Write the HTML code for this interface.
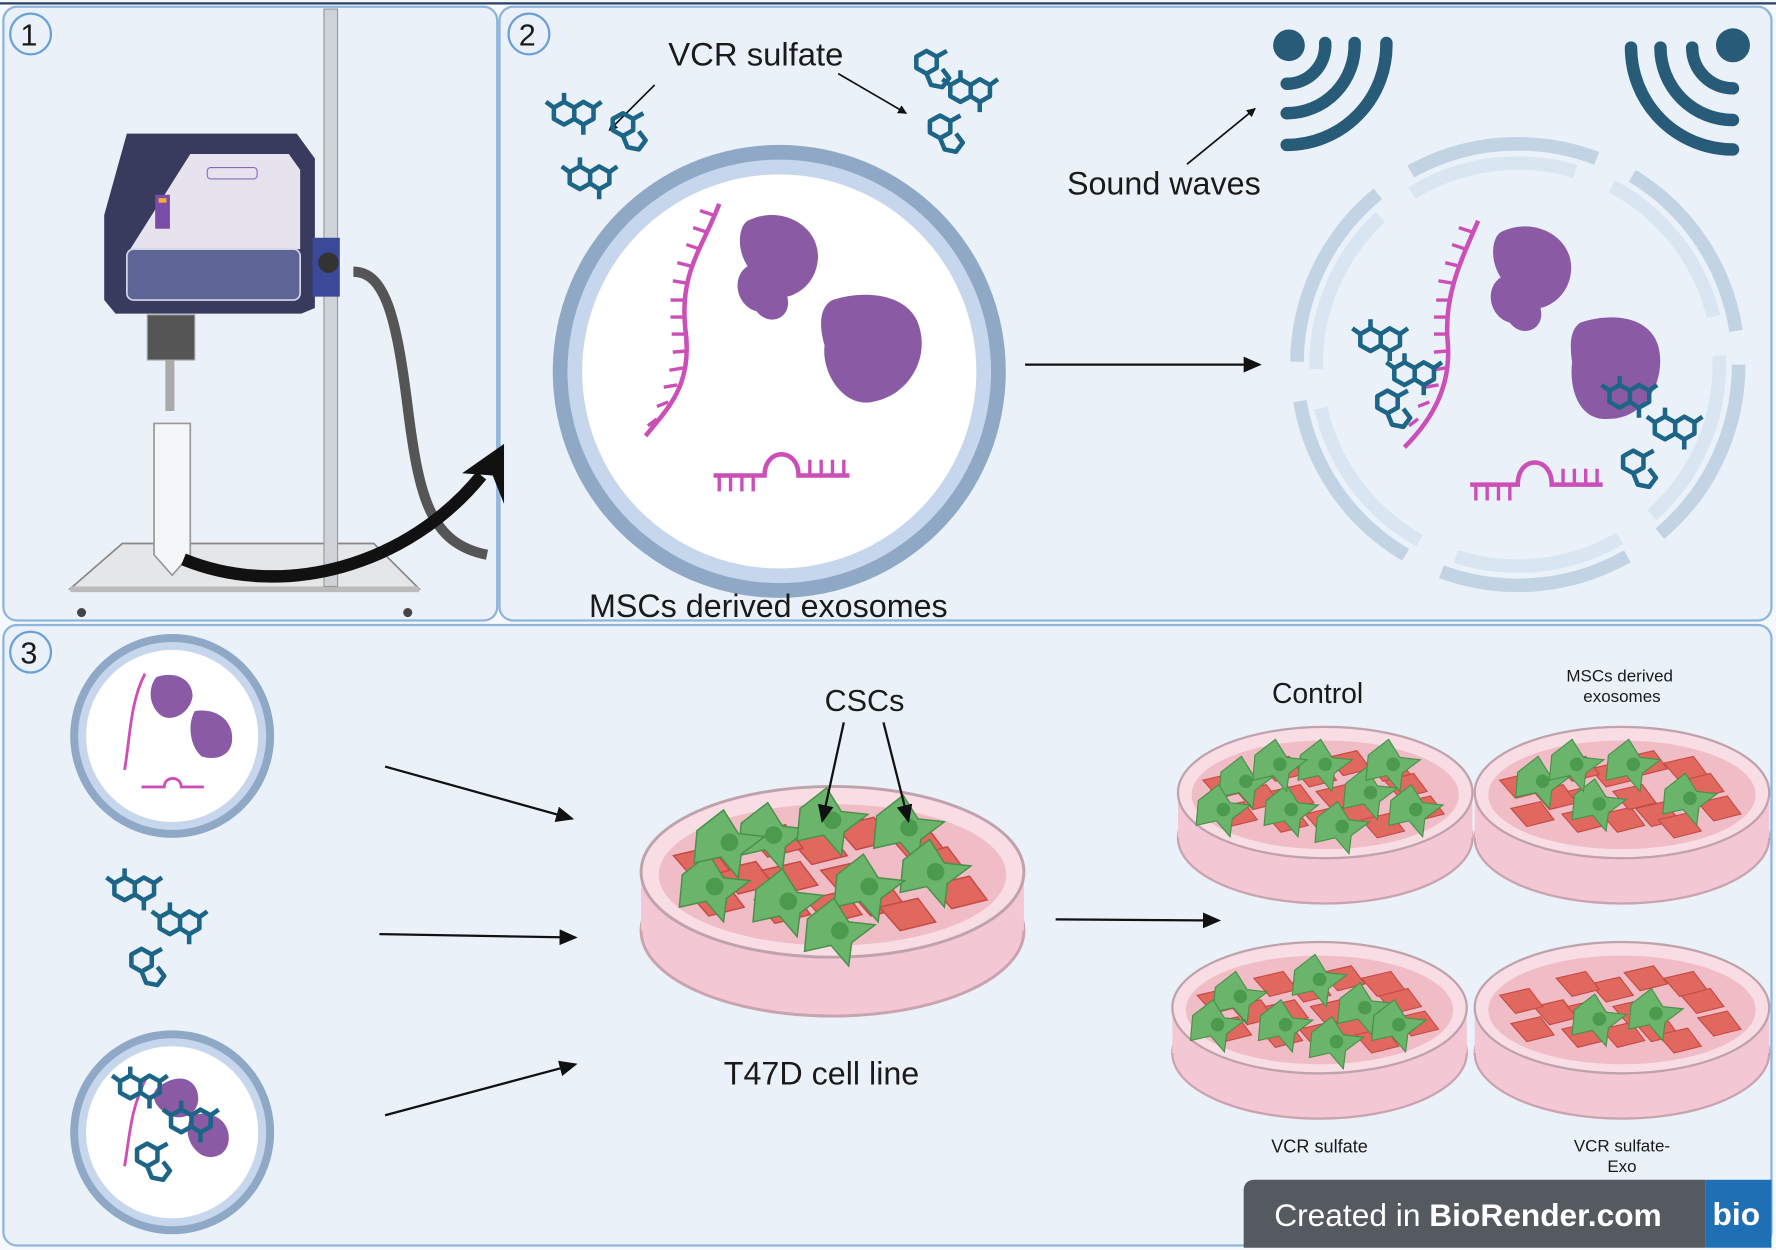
<!DOCTYPE html>
<html><head><meta charset="utf-8"><style>
html,body{margin:0;padding:0;background:#fff;}
svg{display:block;}
text{font-family:"Liberation Sans",sans-serif;fill:#1a1a1a;}
</style></head><body>
<svg width="1776" height="1250" viewBox="0 0 1568 1104" preserveAspectRatio="none" xmlns="http://www.w3.org/2000/svg">
<defs>
<g id="mol" fill="none" stroke="#1d6587" stroke-width="4" stroke-linejoin="round">
<path d="M0,-10 L9,-5 L9,5 L0,10 L-9,5 L-9,-5Z M9,-5 L18,-10 M0,10 L4,20 L14,22 L20,14 L14,6"/>
</g>
<g id="mol2" fill="none" stroke="#1d6587" stroke-width="4" stroke-linejoin="round">
<path d="M0,-10 L9,-5 L9,5 L0,10 L-9,5 L-9,-5Z M-9,-5 L-16,-10 M0,-10 L0,-18 M9,5 L17,10 L26,5 L26,-5 L17,-10 L9,-5 M26,-5 L33,-10 M17,10 L17,19"/>
</g>
<marker id="ah" markerWidth="8" markerHeight="8" refX="7" refY="4" orient="auto" markerUnits="userSpaceOnUse"><path d="M0,0 L8,4 L0,8Z" fill="#111"/></marker>
<marker id="ah2" markerWidth="16" markerHeight="14" refX="14" refY="7" orient="auto" markerUnits="userSpaceOnUse"><path d="M0,0 L16,7 L0,14Z" fill="#111"/></marker>
<g id="dish">
<ellipse cx="0" cy="40" rx="130" ry="58" fill="#f3c7d4" stroke="#c9a3ae" stroke-width="2"/>
<rect x="-130" y="0" width="260" height="40" fill="#f3c7d4"/>
<ellipse cx="0" cy="0" rx="130" ry="58" fill="#f8dde5" stroke="#bfa2ab" stroke-width="2"/>
<ellipse cx="0" cy="2" rx="118" ry="48" fill="#f0bcc6"/>
</g>
<g id="red">
<path d="M-18,-6 L8,-12 L20,4 L-4,10Z" fill="#e0685f" stroke="#c44a44" stroke-width="1"/>
</g>
<g id="grn">
<path d="M-22,-8 L-4,-22 L6,-6 L24,-4 L8,8 L6,24 L-6,10 L-24,14Z" fill="#6ab56b" stroke="#4a8f4a" stroke-width="1"/>
<circle r="6" fill="#4c9a4d"/>
</g>
<g id="reds">
<use href="#red" x="-60" y="5"/><use href="#red" x="30" y="20"/><use href="#red" x="70" y="-5"/><use href="#red" x="-10" y="-15"/><use href="#red" x="0" y="25"/><use href="#red" x="-80" y="20"/><use href="#red" x="50" y="30"/><use href="#red" x="-40" y="-20"/><use href="#red" x="-35" y="25"/><use href="#red" x="85" y="15"/><use href="#red" x="20" y="-25"/><use href="#red" x="-90" y="-5"/><use href="#red" x="10" y="5"/><use href="#red" x="-30" y="5"/><use href="#red" x="55" y="-20"/>
</g>
</defs>
<rect width="1568" height="1104" fill="#f5f8fc"/>
<rect x="3" y="6" width="436" height="542" rx="12" fill="#eaf1f9" stroke="#8fb4de" stroke-width="2"/>
<rect x="441" y="6" width="1123" height="542" rx="12" fill="#eaf1f9" stroke="#8fb4de" stroke-width="2"/>
<rect x="3" y="552" width="1561" height="548" rx="12" fill="#eaf1f9" stroke="#8fb4de" stroke-width="2"/>
<line x1="0" y1="3" x2="1568" y2="3" stroke="#2a3f66" stroke-width="2"/>
<g fill="none" stroke="#6aa0d8" stroke-width="2">
<circle cx="27" cy="30" r="18"/><circle cx="467" cy="30" r="18"/><circle cx="27" cy="576" r="18"/></g>
<text x="18" y="40" font-size="27">1</text><text x="458" y="40" font-size="27">2</text><text x="18" y="586" font-size="27">3</text>

<polygon points="62,520 108,480 330,480 370,520" fill="#e4e6e8" stroke="#888" stroke-width="1.5"/>
<rect x="62" y="518" width="308" height="5" fill="#bbb"/>
<circle cx="72" cy="541" r="4" fill="#444"/><circle cx="360" cy="541" r="4" fill="#444"/>
<rect x="286" y="8" width="12" height="510" fill="#cfd3d8" stroke="#999"/>
<path d="M312,240 C340,240 350,280 360,360 C370,440 380,480 430,490" fill="none" stroke="#555" stroke-width="9"/>
<path d="M112,118 L262,118 L278,140 L278,272 L266,277 L102,277 L92,265 L92,190 Z" fill="#383a5e"/>
<path d="M168,136 L255,136 L265,150 L265,220 L115,220 Z" fill="#e6e2ee"/>
<rect x="112" y="220" width="153" height="45" rx="6" fill="#5e6596" stroke="#d5d5e8" stroke-width="1.5"/>
<rect x="183" y="148" width="44" height="10" rx="3" fill="none" stroke="#8a6bbb"/>
<rect x="137" y="172" width="13" height="30" fill="#7a4ca8"/><rect x="140" y="175" width="7" height="4" fill="#f0b030"/>
<rect x="276" y="210" width="24" height="52" fill="#3b4a98"/><circle cx="290" cy="232" r="9" fill="#333"/>
<rect x="130" y="278" width="42" height="40" fill="#555" stroke="#aaa"/>
<rect x="146" y="318" width="8" height="45" fill="#aaa"/>
<path d="M136,374 L168,374 L168,490 L152,508 L136,490 Z" fill="#f4f6f8" stroke="#999" stroke-width="1.5"/>
<path d="M162,494 C250,530 360,500 425,420" fill="none" stroke="#111" stroke-width="11"/>
<polygon points="445,392 445,445 435,420 408,418" fill="#111"/>

<text x="590" y="58" font-size="29">VCR sulfate</text>
<line x1="578" y1="75" x2="538" y2="115" stroke="#111" stroke-width="1.5" marker-end="url(#ah)"/>
<line x1="740" y1="65" x2="800" y2="100" stroke="#111" stroke-width="1.5" marker-end="url(#ah)"/>
<use href="#mol2" x="498" y="100"/><use href="#mol" x="550" y="110"/><use href="#mol2" x="512" y="157"/>
<use href="#mol" x="818" y="55"/><use href="#mol2" x="848" y="80"/><use href="#mol" x="830" y="112"/>
<circle cx="688" cy="328" r="200" fill="#8fa8c6"/>
<circle cx="688" cy="328" r="187" fill="#c6d6ec"/>
<circle cx="688" cy="328" r="174" fill="#fff"/>
<path d="M635,180 C620,220 600,240 605,290 C612,340 590,360 570,385" fill="none" stroke="#cc4fb8" stroke-width="4"/>
<g stroke="#cc4fb8" stroke-width="3"><path d="M630,190 l-12,-4 M624,205 l-12,-4 M618,220 l-12,-4 M610,235 l-12,-3 M606,250 l-12,-2 M604,265 l-12,0 M604,280 l-12,0 M605,295 l-12,0 M606,310 l-12,1 M603,325 l-12,2 M598,340 l-12,2 M590,355 l-10,4 M580,370 l-8,6"/></g>
<path d="M630,420 L675,420 C675,395 705,395 705,420 L750,420" fill="none" stroke="#cc4fb8" stroke-width="4"/>
<g stroke="#cc4fb8" stroke-width="3"><path d="M635,420 v14 M645,420 v14 M655,420 v14 M665,420 v14 M715,420 v-14 M725,420 v-14 M735,420 v-14 M745,420 v-14"/></g>
<path d="M660,195 C690,180 725,200 722,230 C720,250 705,260 695,262 C700,280 680,290 668,275 C650,270 645,245 660,235 C650,220 652,200 660,195Z" fill="#8a5aa5"/>
<path d="M735,265 C765,255 805,260 812,290 C820,320 800,350 770,355 C745,360 725,330 728,305 C722,285 725,270 735,265Z" fill="#8a5aa5"/>
<text x="520" y="545" font-size="28.5">MSCs derived exosomes</text>
<line x1="905" y1="322" x2="1112" y2="322" stroke="#111" stroke-width="2" marker-end="url(#ah2)"/>
<text x="942" y="172" font-size="28.5">Sound waves</text>
<line x1="1048" y1="145" x2="1108" y2="96" stroke="#111" stroke-width="1.5" marker-end="url(#ah)"/>
<g fill="none" stroke="#275b78" stroke-width="11" stroke-linecap="round">
<circle cx="1138" cy="40" r="14" fill="#275b78" stroke="none"/>
<path d="M1136,74 A34,34 0 0 0 1170,38"/><path d="M1136,100 A60,60 0 0 0 1196,38"/><path d="M1136,128 A88,88 0 0 0 1224,38"/>
<circle cx="1530" cy="40" r="15" fill="#275b78" stroke="none"/>
<path d="M1494,42 A36,36 0 0 0 1530,78"/><path d="M1466,42 A64,64 0 0 0 1530,106"/><path d="M1440,42 A90,90 0 0 0 1530,132"/>
</g>
<g fill="none" stroke-width="12">
<circle cx="1340" cy="322" r="195" stroke="#c2d3e3" stroke-dasharray="170 35"/>
<circle cx="1340" cy="322" r="178" stroke="#d9e6f2" stroke-dasharray="150 35"/>
</g>
<path d="M1305,195 C1290,230 1275,260 1278,300 C1282,340 1265,370 1240,395" fill="none" stroke="#cc4fb8" stroke-width="4"/>
<g stroke="#cc4fb8" stroke-width="3"><path d="M1300,205 l-12,-4 M1294,220 l-12,-4 M1288,235 l-12,-3 M1282,250 l-12,-2 M1280,265 l-12,0 M1278,280 l-12,0 M1278,295 l-12,0 M1278,310 l-12,1 M1276,325 l-12,2 M1270,340 l-12,2 M1262,355 l-10,4 M1252,370 l-8,6"/></g>
<path d="M1298,428 L1340,428 C1340,402 1370,402 1370,428 L1415,428" fill="none" stroke="#cc4fb8" stroke-width="4"/>
<g stroke="#cc4fb8" stroke-width="3"><path d="M1303,428 v14 M1313,428 v14 M1323,428 v14 M1333,428 v14 M1380,428 v-14 M1390,428 v-14 M1400,428 v-14 M1410,428 v-14"/></g>
<path d="M1325,205 C1355,190 1390,210 1387,240 C1385,260 1370,270 1360,272 C1365,290 1345,300 1333,285 C1315,280 1310,255 1325,245 C1315,230 1317,210 1325,205Z" fill="#8a5aa5"/>
<path d="M1395,285 C1425,275 1460,280 1465,310 C1470,340 1450,370 1420,370 C1395,372 1385,345 1388,320 C1385,300 1388,290 1395,285Z" fill="#8a5aa5"/>
<use href="#mol2" x="1210" y="300"/><use href="#mol2" x="1240" y="330"/><use href="#mol" x="1225" y="355"/>
<use href="#mol2" x="1430" y="350"/><use href="#mol2" x="1470" y="378"/><use href="#mol" x="1442" y="408"/>

<circle cx="152" cy="650" r="90" fill="#8fa8c6"/><circle cx="152" cy="650" r="83" fill="#c6d6ec"/><circle cx="152" cy="650" r="76" fill="#fff"/>
<path d="M128,595 C115,620 115,650 110,680" fill="none" stroke="#cc4fb8" stroke-width="2.5"/>
<path d="M125,695 L145,695 C145,685 160,685 160,695 L180,695" fill="none" stroke="#cc4fb8" stroke-width="2.5"/>
<path d="M138,598 C155,592 170,600 170,615 C168,630 150,640 140,630 C130,620 132,605 138,598Z" fill="#8a5aa5"/>
<path d="M172,628 C190,625 205,635 205,652 C205,668 190,672 178,668 C168,660 165,640 172,628Z" fill="#8a5aa5"/>
<use href="#mol2" x="110" y="785"/><use href="#mol2" x="150" y="815"/><use href="#mol" x="125" y="848"/>
<circle cx="152" cy="1000" r="90" fill="#8fa8c6"/><circle cx="152" cy="1000" r="83" fill="#c6d6ec"/><circle cx="152" cy="1000" r="76" fill="#fff"/>
<path d="M130,950 C115,980 115,1000 110,1030" fill="none" stroke="#cc4fb8" stroke-width="2.5"/>
<path d="M140,960 C160,945 175,955 175,970 C175,985 160,990 150,985 C135,978 132,965 140,960Z" fill="#8a5aa5"/>
<path d="M170,985 C188,980 202,990 202,1005 C202,1020 188,1025 178,1020 C165,1012 162,995 170,985Z" fill="#8a5aa5"/>
<use href="#mol2" x="115" y="960"/><use href="#mol2" x="160" y="990"/><use href="#mol" x="130" y="1020"/>
<line x1="340" y1="677" x2="505" y2="723" stroke="#111" stroke-width="2" marker-end="url(#ah2)"/>
<line x1="335" y1="825" x2="508" y2="828" stroke="#111" stroke-width="2" marker-end="url(#ah2)"/>
<line x1="340" y1="985" x2="508" y2="940" stroke="#111" stroke-width="2" marker-end="url(#ah2)"/>
<g transform="translate(735,770) scale(1.3)">
<use href="#dish"/><use href="#reds"/>
<use href="#grn" x="-80" y="10"/><use href="#grn" x="-40" y="-25"/><use href="#grn" x="0" y="-35"/><use href="#grn" x="52" y="-30"/><use href="#grn" x="70" y="0"/><use href="#grn" x="-30" y="20"/><use href="#grn" x="25" y="10"/><use href="#grn" x="-70" y="-20"/><use href="#grn" x="5" y="40"/>
</g>
<text x="728" y="628" font-size="27">CSCs</text>
<line x1="745" y1="638" x2="726" y2="725" stroke="#111" stroke-width="2" marker-end="url(#ah2)"/>
<line x1="780" y1="638" x2="802" y2="725" stroke="#111" stroke-width="2" marker-end="url(#ah2)"/>
<text x="639" y="958" font-size="28.5">T47D cell line</text>
<line x1="932" y1="812" x2="1076" y2="813" stroke="#111" stroke-width="2" marker-end="url(#ah2)"/>
<g transform="translate(1170,700)"><use href="#dish"/><use href="#reds"/>
<use href="#grn" x="-70" y="-10"/><use href="#grn" x="-30" y="15"/><use href="#grn" x="0" y="-25"/><use href="#grn" x="40" y="0"/><use href="#grn" x="80" y="15"/><use href="#grn" x="-90" y="15"/><use href="#grn" x="15" y="30"/><use href="#grn" x="-40" y="-25"/><use href="#grn" x="60" y="-25"/></g>
<g transform="translate(1432,700)"><use href="#dish"/><use href="#reds"/>
<use href="#grn" x="-70" y="-10"/><use href="#grn" x="-20" y="10"/><use href="#grn" x="10" y="-25"/><use href="#grn" x="60" y="5"/><use href="#grn" x="-40" y="-25"/></g>
<g transform="translate(1165,890)"><use href="#dish"/><use href="#reds"/>
<use href="#grn" x="-70" y="-10"/><use href="#grn" x="-30" y="15"/><use href="#grn" x="0" y="-25"/><use href="#grn" x="40" y="0"/><use href="#grn" x="-90" y="15"/><use href="#grn" x="15" y="30"/><use href="#grn" x="70" y="15"/></g>
<g transform="translate(1432,890)"><use href="#dish"/><use href="#reds"/>
<use href="#grn" x="-20" y="10"/><use href="#grn" x="30" y="5"/></g>
<text x="1123" y="621" font-size="25">Control</text>
<text x="1430" y="602" font-size="15" text-anchor="middle">MSCs derived</text>
<text x="1432" y="620" font-size="15" text-anchor="middle">exosomes</text>
<text x="1165" y="1018" font-size="16" text-anchor="middle">VCR sulfate</text>
<text x="1432" y="1017" font-size="15" text-anchor="middle">VCR sulfate-</text>
<text x="1432" y="1035" font-size="15" text-anchor="middle">Exo</text>
<path d="M1108,1042 L1506,1042 L1506,1102 L1098,1102 L1098,1052 Q1098,1042 1108,1042Z" fill="#555a60"/>
<rect x="1506" y="1042" width="58" height="60" fill="#1f6fb5"/>
<text x="1125" y="1083" font-size="28" style="fill:#fff">Created in <tspan font-weight="bold">BioRender.com</tspan></text>
<text x="1512" y="1082" font-size="28" font-weight="bold" style="fill:#fff">bio</text>
</svg>
</body></html>
